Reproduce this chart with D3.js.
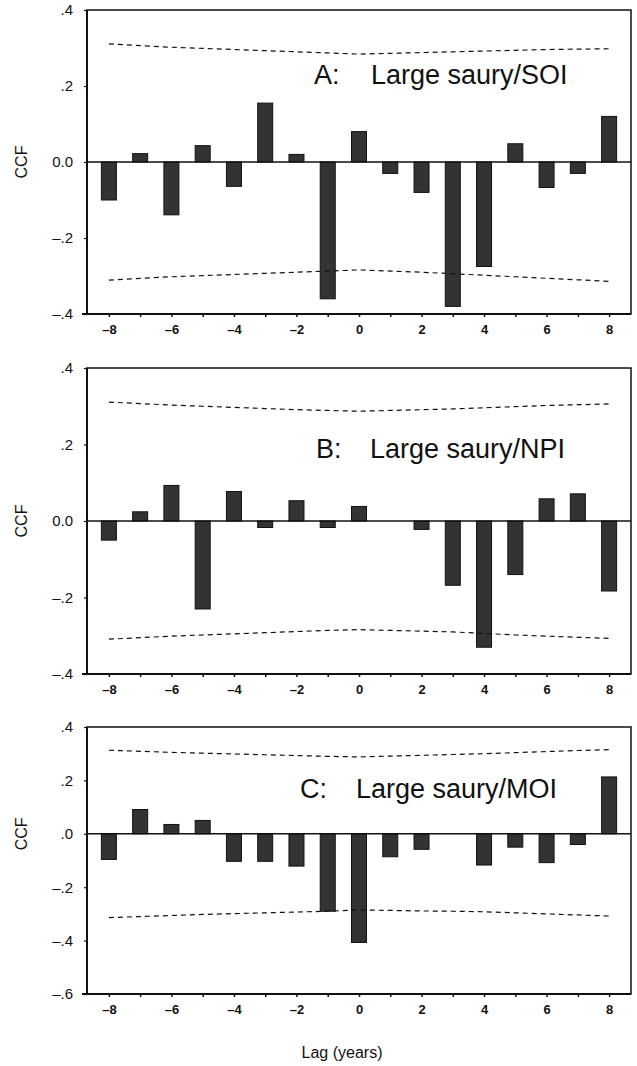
<!DOCTYPE html>
<html>
<head>
<meta charset="utf-8">
<script src="https://cdn.jsdelivr.net/npm/d3@7"></script>
<style>
  body { margin: 0; background: #fff; }
  text { font-family: "Liberation Sans", Arial, sans-serif; fill: #111; }
</style>
</head>
<body>
<script>
// lags on the x axis
var lags = [-8, -7, -6, -5, -4, -3, -2, -1, 0, 1, 2, 3, 4, 5, 6, 7, 8];
var xTickValues = [-8, -6, -4, -2, 0, 2, 4, 6, 8];
var xTickLabels = ['\u20138', '\u20136', '\u20134', '\u20132', '0', '2', '4', '6', '8'];

// A: Large saury / SOI
var ccfA = [-0.100, 0.022, -0.139, 0.043, -0.064, 0.155, 0.020, -0.360, 0.080, -0.030, -0.080, -0.380, -0.275, 0.048, -0.067, -0.030, 0.120];
var upperA = [0.311, 0.306, 0.302, 0.299, 0.296, 0.293, 0.290, 0.287, 0.284, 0.286, 0.288, 0.290, 0.292, 0.294, 0.296, 0.297, 0.298];
var lowerA = [-0.311, -0.306, -0.302, -0.299, -0.296, -0.293, -0.290, -0.287, -0.284, -0.287, -0.290, -0.294, -0.298, -0.302, -0.306, -0.310, -0.314];

// B: Large saury / NPI
var ccfB = [-0.050, 0.024, 0.093, -0.230, 0.077, -0.017, 0.053, -0.017, 0.038, 0.000, -0.022, -0.168, -0.330, -0.140, 0.058, 0.071, -0.183];
var upperB = [0.311, 0.307, 0.303, 0.300, 0.297, 0.294, 0.291, 0.289, 0.287, 0.289, 0.291, 0.293, 0.296, 0.299, 0.302, 0.304, 0.306];
var lowerB = [-0.309, -0.305, -0.301, -0.298, -0.295, -0.292, -0.289, -0.286, -0.284, -0.286, -0.288, -0.290, -0.294, -0.298, -0.301, -0.304, -0.307];

// C: Large saury / MOI
var ccfC = [-0.096, 0.091, 0.035, 0.050, -0.103, -0.103, -0.121, -0.290, -0.407, -0.086, -0.058, 0.000, -0.117, -0.050, -0.108, -0.040, 0.213];
var upperC = [0.313, 0.309, 0.305, 0.302, 0.299, 0.296, 0.293, 0.290, 0.288, 0.291, 0.294, 0.297, 0.300, 0.304, 0.308, 0.312, 0.315];
var lowerC = [-0.314, -0.310, -0.306, -0.302, -0.299, -0.296, -0.293, -0.290, -0.285, -0.287, -0.289, -0.290, -0.292, -0.296, -0.300, -0.304, -0.308];

var yTicksAB = [0.4, 0.2, 0, -0.2, -0.4];
var yLabelsAB = ['.4', '.2', '0.0', '\u2013.2', '\u2013.4'];
var yTicksC = [0.4, 0.2, 0, -0.2, -0.4, -0.6];
var yLabelsC = ['.4', '.2', '.0', '\u2013.2', '\u2013.4', '\u2013.6'];

var svg;
var left = 87, right = 631;

window.document.addEventListener('DOMContentLoaded', init, false);

function init() {
    svg = d3.select('body')
        .append('svg')
        .attr('width', 637)
        .attr('height', 1066);

    drawPanel({ top: 10, bottom: 314, yMin: -0.4, yMax: 0.4, ccf: ccfA, upper: upperA, lower: lowerA,
        yTicks: yTicksAB, yLabels: yLabelsAB, letter: 'A:', name: 'Large saury/SOI',
        letterX: 314, nameX: 371, titleY: 84 });
    drawPanel({ top: 368, bottom: 674, yMin: -0.4, yMax: 0.4, ccf: ccfB, upper: upperB, lower: lowerB,
        yTicks: yTicksAB, yLabels: yLabelsAB, letter: 'B:', name: 'Large saury/NPI',
        letterX: 316, nameX: 370, titleY: 458 });
    drawPanel({ top: 727, bottom: 994, yMin: -0.6, yMax: 0.4, ccf: ccfC, upper: upperC, lower: lowerC,
        yTicks: yTicksC, yLabels: yLabelsC, letter: 'C:', name: 'Large saury/MOI',
        letterX: 300, nameX: 356, titleY: 798 });

    svg.append('text')
        .attr('x', 342)
        .attr('y', 1058)
        .attr('text-anchor', 'middle')
        .style('font-size', '16px')
        .text('Lag (years)');
}

function drawPanel(p) {
    var x = d3.scaleLinear().domain([-8.7, 8.7]).range([left, right]);
    var y = d3.scaleLinear().domain([p.yMin, p.yMax]).range([p.bottom, p.top]);
    var g = svg.append('g');
    var barW = x(0.48) - x(0);

    // frame
    g.append('rect')
        .attr('x', left)
        .attr('y', p.top)
        .attr('width', right - left)
        .attr('height', p.bottom - p.top)
        .attr('fill', 'none')
        .attr('stroke', '#111')
        .attr('stroke-width', 1.5);
    g.append('line')
        .attr('x1', left).attr('x2', left)
        .attr('y1', p.top).attr('y2', p.bottom)
        .attr('stroke', '#111').attr('stroke-width', 2);
    g.append('line')
        .attr('x1', left - 5).attr('x2', right)
        .attr('y1', p.bottom).attr('y2', p.bottom)
        .attr('stroke', '#111').attr('stroke-width', 2);

    // bars
    g.selectAll('rect.bar')
        .data(p.ccf)
        .enter()
        .append('rect')
        .attr('class', 'bar')
        .attr('x', function (d, i) { return x(lags[i]) - barW / 2; })
        .attr('y', function (d) { return y(Math.max(0, d)); })
        .attr('width', barW)
        .attr('height', function (d) { return Math.abs(y(d) - y(0)); })
        .attr('fill', '#333')
        .attr('stroke', '#111')
        .attr('stroke-width', 1);

    // zero line
    g.append('line')
        .attr('x1', left).attr('x2', right)
        .attr('y1', y(0)).attr('y2', y(0))
        .attr('stroke', '#111').attr('stroke-width', 1.5);

    // confidence limits
    var line = d3.line()
        .x(function (d, i) { return x(lags[i]); })
        .y(function (d) { return y(d); });
    [p.upper, p.lower].forEach(function (band) {
        g.append('path')
            .attr('d', line(band))
            .attr('fill', 'none')
            .attr('stroke', '#111')
            .attr('stroke-width', 1.2)
            .attr('stroke-dasharray', '5,4');
    });

    // x axis ticks and labels
    var xAxis = d3.axisBottom(x)
        .tickValues(lags)
        .tickSize(3)
        .tickFormat(function (d) {
            var k = xTickValues.indexOf(d);
            return k < 0 ? '' : xTickLabels[k];
        });
    var xa = g.append('g')
        .attr('transform', 'translate(0,' + p.bottom + ')')
        .call(xAxis);
    xa.select('.domain').remove();
    xa.selectAll('line').attr('stroke', '#111').attr('stroke-width', 1.5);
    xa.selectAll('text')
        .attr('y', 11)
        .style('font-size', '13px')
        .style('font-weight', 'bold')
        .attr('fill', '#111');

    // y axis ticks and labels
    var yAxis = d3.axisLeft(y)
        .tickValues(p.yTicks)
        .tickSize(3)
        .tickFormat(function (d, i) { return p.yLabels[i]; });
    var ya = g.append('g')
        .attr('transform', 'translate(' + left + ',0)')
        .call(yAxis);
    ya.select('.domain').remove();
    ya.selectAll('line').attr('stroke', '#111').attr('stroke-width', 1.2);
    ya.selectAll('text')
        .attr('x', -14)
        .style('font-size', '15px')
        .attr('fill', '#111');

    // y label
    g.append('text')
        .attr('transform', 'translate(27,' + y(0) + ') rotate(-90)')
        .attr('text-anchor', 'middle')
        .style('font-size', '16px')
        .text('CCF');

    // panel title
    g.append('text')
        .attr('x', p.letterX)
        .attr('y', p.titleY)
        .style('font-size', '27px')
        .text(p.letter);
    g.append('text')
        .attr('x', p.nameX)
        .attr('y', p.titleY)
        .style('font-size', '27px')
        .text(p.name);
}
</script>
</body>
</html>
